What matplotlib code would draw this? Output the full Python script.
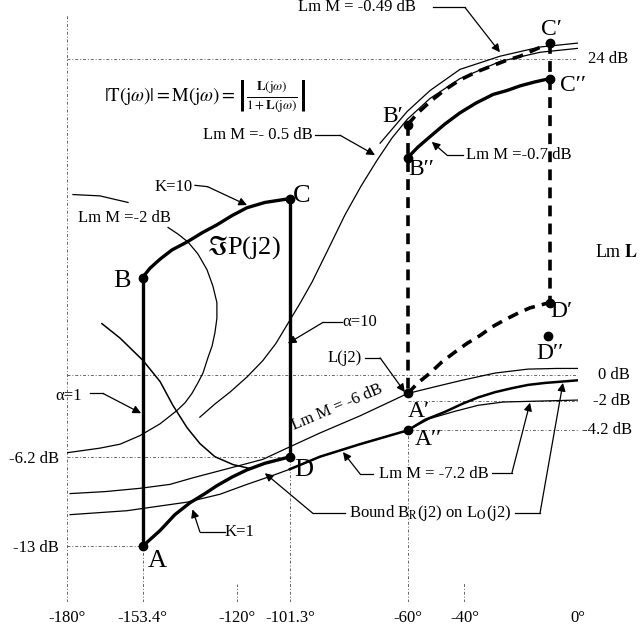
import matplotlib.pyplot as plt

plt.rcParams['font.family'] = ['Liberation Serif', 'DejaVu Serif']
plt.rcParams['mathtext.fontset'] = 'stix'

# template corners (phase in deg, Lm in dB)
A = (-153.4, -13.0)
B = (-153.4, 7.4)
C = (-101.3, 13.4)
D = (-101.3, -6.2)

# template edges K=10 (B->C) and K=1 (A->D)
k10_phase = [-153.4, -150.8, -147.2, -143.0, -137.7, -132.4, -127.2, -121.9, -116.6, -110.3, -101.3]
k10_db = [7.4, 8.1, 8.8, 9.5, 10.1, 10.8, 11.4, 12.1, 12.7, 13.1, 13.4]
k1_phase = [-153.4, -150.8, -147.2, -142.0, -136.7, -131.4, -127.2, -121.9, -116.6, -110.3, -101.3]
k1_db = [-13.0, -12.5, -11.8, -10.6, -9.7, -9.0, -8.4, -7.75, -7.2, -6.7, -6.2]

# Lm M = -2 dB contour (main loop + short upper piece)
m2_phase = [-144.4, -140.9, -137.4, -133.9, -130.7, -128.6, -127.2, -127.2, -127.9, -128.9, -130.3,
            -132.1, -133.9, -136.0, -138.4, -141.3, -147.2, -154.3, -161.3, -168.4, -180.0]
m2_db = [11.2, 10.7, 10.1, 9.2, 8.0, 6.75, 5.5, 4.3, 3.2, 2.2, 1.35,
         0.15, -0.6, -1.4, -2.1, -2.7, -3.7, -4.6, -5.25, -5.55, -5.9]
m2b_phase = [-177.9, -168.4, -158.5]
m2b_db = [13.7, 13.6, 13.1]

# descending contour piece inside the template
desc_phase = [-167.7, -161.3, -153.2, -147.2, -142.7, -137.7, -133.2, -127.9, -121.5, -115.5]
desc_db = [3.9, 2.8, 1.1, -0.5, -2.3, -4.0, -5.2, -6.2, -6.8, -7.1]

# Lm M = -6 dB contour
m6_phase = [-178.9, -166.6, -154.3, -143.7, -135.6, -121.5, -111.0, -102.5, -90.9, -76.8,
            -60.0, -49.6, -40.9, -29.2, -17.6, -7.4, 0.0]
m6_db = [-9.0, -8.85, -8.6, -8.3, -7.8, -7.0, -6.4, -5.55, -4.4, -3.1,
         -1.4, -0.85, -0.4, 0.15, 0.45, 0.5, 0.5]

# Lm M = -7.2 dB contour
m72_phase = [-178.9, -158.9, -137.7, -126.1, -116.6, -108.5, -101.5, -90.9, -76.8, -60.0,
             -52.1, -43.3, -35.2, -26.4, -17.6, 0.0]
m72_db = [-10.6, -10.3, -9.65, -9.05, -8.3, -7.7, -7.15, -6.2, -5.25, -4.2,
          -3.3, -2.75, -2.3, -2.05, -2.0, -1.9]

# bound B_R(j2)
bound_phase = [-101.5, -90.9, -76.8, -60.0, -53.9, -46.9, -40.9, -35.2, -29.2, -23.3, -17.6, -11.6, 0.0]
bound_db = [-7.15, -6.2, -5.25, -4.2, -3.4, -2.8, -2.2, -1.7, -1.3, -1.0, -0.75, -0.6, -0.4]

# Lm M = -0.5 dB and -0.49 dB contours
m05_phase = [-133.2, -127.9, -122.6, -116.6, -111.0, -106.4, -102.5, -97.9, -93.7, -88.1, -82.1,
             -76.4, -70.8, -65.5, -60.2, -52.1, -41.6, -27.5, -13.4, 0.0]
m05_db = [-3.2, -2.2, -1.3, -0.15, 1.1, 2.4, 3.8, 5.45, 7.05, 9.5, 12.15,
          14.35, 16.3, 18.0, 19.4, 21.0, 22.5, 23.8, 24.5, 24.8]
m049_phase = [-69.7, -60.2, -52.1, -41.6, -27.5, -13.4, 0.0]
m049_db = [17.6, 20.0, 21.6, 23.2, 24.2, 24.9, 25.2]

# shifted template points
Ap = (-60.0, -1.4)
App = (-60.0, -4.2)
Bp = (-60.0, 19.0)
Bpp = (-60.0, 16.5)
Cp = (-10.0, 25.2)
Cpp = (-10.0, 22.5)
Dp = (-10.0, 5.5)
Dpp = (-10.5, 3.0)

bc1_phase = [-60.0, -56.4, -52.1, -46.9, -41.6, -35.9, -29.9, -25.0, -20.4, -15.2, -10.0]
bc1_db = [19.0, 19.9, 20.75, 21.65, 22.4, 23.0, 23.5, 23.9, 24.2, 24.7, 25.2]
bc2_phase = [-60.0, -56.4, -52.1, -46.9, -41.6, -35.9, -29.9, -25.0, -20.4, -15.2, -10.0]
bc2_db = [16.5, 17.3, 18.1, 19.05, 19.9, 20.65, 21.3, 21.6, 21.95, 22.25, 22.5]
ad_phase = [-60.0, -56.4, -52.1, -47.9, -43.3, -39.1, -34.5, -30.3, -25.7, -21.1, -16.9, -10.0]
ad_db = [-1.4, -0.6, 0.15, 1.0, 1.75, 2.4, 3.0, 3.65, 4.2, 4.7, 5.1, 5.5]

xticks = [-180, -153.4, -120, -101.3, -60, -40, 0]
xlabels = ['-180°', '-153.4°', '-120°', '-101.3°', '-60°', '-40°', '0°']

fig = plt.figure(figsize=(6.41, 6.27), dpi=100)
ax = fig.add_axes([67 / 641, 1 - 602 / 627, 511 / 641, 592 / 627])
ax.set_xlim(-180, 0)
ax.set_ylim(-17.23, 27.71)
for s in ax.spines.values():
    s.set_visible(False)

# dotted reference lines
dot = dict(color='0.4', lw=0.7, ls=(0, (3, 2, 1, 2)))
ax.plot([-180, 0], [-17.23, -17.23], **dot)
ax.plot([-180, -180], [-17.23, 27.3], **dot)
ax.plot([0, 0], [-17.23, 27.6], **dot)
ax.plot([-180, 0], [24, 24], **dot)
ax.plot([-180, 0], [0, 0], **dot)
ax.plot([-180, -101.3], [-6.2, -6.2], **dot)
ax.plot([-180, -153.4], [-13, -13], **dot)
ax.plot([-60, 0], [-2, -2], **dot)
ax.plot([-60, 0], [-4.2, -4.2], **dot)
ax.plot([-153.4, -153.4], [-17.23, -13], **dot)
ax.plot([-101.3, -101.3], [-17.23, -6.2], **dot)
ax.plot([-60, -60], [-17.23, -4.2], **dot)
ax.plot([-120, -120], [-17.23, -15.9], **dot)
ax.plot([-40, -40], [-17.23, -15.7], **dot)

thin = dict(color='k', lw=0.9, solid_joinstyle='round')
ax.plot(m2_phase, m2_db, **thin)
ax.plot(m2b_phase, m2b_db, **thin)
ax.plot(desc_phase, desc_db, color='k', lw=1.1, solid_joinstyle='round')
ax.plot(m6_phase, m6_db, **thin)
ax.plot(m72_phase, m72_db, **thin)
ax.plot(bound_phase, bound_db, color='k', lw=1.8, solid_joinstyle='round')
ax.plot(m05_phase, m05_db, **thin)
ax.plot(m049_phase, m049_db, **thin)

# template
thick = dict(color='k', lw=2.4, solid_capstyle='round', solid_joinstyle='round')
ax.plot([A[0], B[0]], [A[1], B[1]], **thick)
ax.plot([C[0], D[0]], [C[1], D[1]], **thick)
ax.plot(k10_phase, k10_db, **thick)
ax.plot(k1_phase, k1_db, **thick)

# shifted template
dash = dict(color='k', lw=2.6, ls=(0, (3, 2)))
ax.plot([Bp[0], Ap[0]], [Bp[1], Ap[1]], **dash)
ax.plot([Cp[0], Dp[0]], [Cp[1], Dp[1]], **dash)
ax.plot(bc1_phase, bc1_db, **dash)
ax.plot(ad_phase, ad_db, **dash)
ax.plot(bc2_phase, bc2_db, **thick)

pts = [A, B, C, D, Ap, App, Bp, Bpp, Cp, Cpp, Dp, Dpp]
ax.plot([p[0] for p in pts], [p[1] for p in pts], 'o', color='k', ms=6)

big = 19
ax.text(-148.3, -14.1, 'A', fontsize=big, ha='center', va='center')
ax.text(-160.6, 7.1, 'B', fontsize=big, ha='center', va='center')
ax.text(-97.2, 13.6, 'C', fontsize=big, ha='center', va='center')
ax.text(-96.5, -7.2, 'D', fontsize=big, ha='center', va='center')
ax.text(-117.7, 9.7, r'$\Im$P(j2)', fontsize=big, ha='center', va='center')

mid = 17
ax.text(-65.2, 19.6, 'B′', fontsize=mid, ha='center', va='center')
ax.text(-59.7, 15.6, 'B′′', fontsize=mid, ha='left', va='center')
ax.text(-9.5, 26.2, 'C′', fontsize=mid, ha='center', va='center')
ax.text(-6.3, 22.0, 'C′′', fontsize=mid, ha='left', va='center')
ax.text(-9.9, 4.85, 'D′', fontsize=mid, ha='left', va='center')
ax.text(-9.9, 1.65, 'D′′', fontsize=mid, ha='center', va='center')
ax.text(-60.0, -2.75, 'A′', fontsize=mid, ha='left', va='center')
ax.text(-57.5, -4.9, 'A′′', fontsize=mid, ha='left', va='center')

fs = 12
ax.text(-131.4, 21.1,
        r'$|\mathrm{T}(\mathrm{j}\omega)| = \mathrm{M}(\mathrm{j}\omega) = '
        r'\left|\frac{\mathbf{L}(\mathrm{j}\omega)}{1+\mathbf{L}(\mathrm{j}\omega)}\right|$',
        fontsize=13.5, ha='center', va='center')


def note(text, pos, path, ha='center', rot=0):
    if text:
        ax.text(pos[0], pos[1], text, fontsize=fs, ha=ha, va='center',
                rotation=rot, rotation_mode='anchor', clip_on=False)
    xs = [p[0] for p in path]
    ys = [p[1] for p in path]
    if len(path) > 2:
        ax.plot(xs[:-1], ys[:-1], color='k', lw=0.9, clip_on=False)
    ax.annotate('', xy=path[-1], xytext=path[-2],
                arrowprops=dict(arrowstyle='-|>', color='k', lw=0.9,
                                mutation_scale=12, shrinkA=0, shrinkB=0))


note('Lm M = -0.49 dB', (-98.6, 27.9), [(-51.1, 27.9), (-39.8, 27.9), (-27.5, 24.5)], ha='left')
note('Lm M =- 0.5 dB', (-132.1, 18.2), [(-92.6, 18.2), (-83.8, 18.2), (-71.5, 16.7)], ha='left')
note('K=10', (-142.3, 14.3), [(-134.9, 14.4), (-130.5, 14.3), (-116.6, 12.9)])
note('α=1', (-179.3, -1.6), [(-171.9, -1.4), (-167.3, -1.4), (-153.9, -2.9)])
note('α=10', (-76.8, 4.0), [(-83.1, 4.0), (-89.8, 4.0), (-102.2, 2.4)])
note('L(j2)', (-82.1, 1.3), [(-75.0, 1.3), (-69.7, 1.3), (-61.0, -1.3)])
note('Lm M =-0.7 dB', (-39.5, 16.7), [(-40.5, 16.7), (-46.2, 16.7), (-51.5, 17.7)], ha='left')
note('K=1', (-119.1, -11.9), [(-124.3, -11.9), (-133.2, -11.9), (-135.8, -10.2)])
note('Lm M = -7.2 dB', (-50.7, -7.5), [(-72.2, -7.5), (-76.8, -7.5), (-82.8, -5.85)])
note(None, None, [(-30.3, -7.45), (-23.3, -7.45), (-16.9, -2.1)])
note(r'Bound B$_\mathrm{R}$(j2) on L$_\mathrm{O}$(j2)', (-52.1, -10.5),
     [(-82.1, -10.5), (-93.4, -10.5), (-110.3, -7.45)])
note(None, None, [(-22.2, -10.5), (-13.4, -10.5), (-5.3, -0.6)])

ax.text(-159.6, 11.9, 'Lm M =-2 dB', fontsize=fs, ha='center', va='center')
ax.text(-83.8, -3.0, 'Lm M = -6 dB', fontsize=fs, ha='center', va='bottom',
        rotation=23, rotation_mode='anchor')

ax.text(13.7, 9.3, r'Lm $\mathbf{L}$', fontsize=fs + 1, ha='center', va='center', clip_on=False)
ax.text(3.5, 24, '24 dB', fontsize=fs, ha='left', va='center', clip_on=False)
ax.text(7.0, 0, '0 dB', fontsize=fs, ha='left', va='center', clip_on=False)
ax.text(5.3, -2, '-2 dB', fontsize=fs, ha='left', va='center', clip_on=False)
ax.text(1.4, -4.2, '-4.2 dB', fontsize=fs, ha='left', va='center', clip_on=False)

ax.set_yticks([-13, -6.2])
ax.set_yticklabels(['-13 dB', '-6.2 dB'], fontsize=fs)
ax.set_xticks(xticks)
ax.set_xticklabels(xlabels, fontsize=fs)
ax.tick_params(length=0, pad=6)

fig.savefig('out.png', dpi=100)
